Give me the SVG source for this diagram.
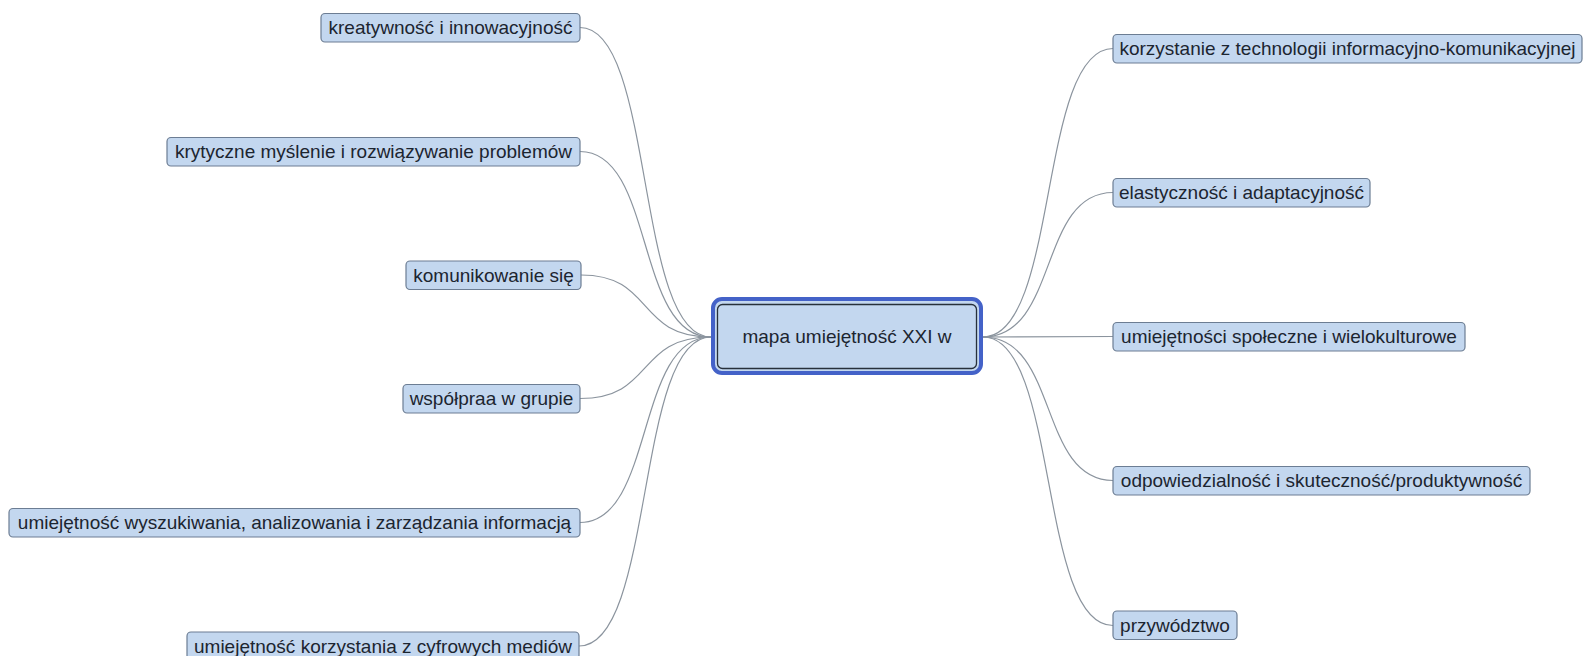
<svg xmlns="http://www.w3.org/2000/svg" width="1585" height="656" viewBox="0 0 1585 656">
<style>
  .box { fill: #c3d7ef; stroke: #6c7d93; stroke-width: 1.2; }
  .lbl { font-family: "Liberation Sans", Arial, sans-serif; font-size: 19px; fill: #1c2530; text-anchor: middle; }
  .conn { fill: none; stroke: #8b949e; stroke-width: 1.2; }
</style>
<rect x="0" y="0" width="1585" height="656" fill="#ffffff"/>
<g id="connectors">
  <path class="conn" d="M580,27.5 C655,27.5 635,337 711,337"/>
  <path class="conn" d="M580,151.5 C655,151.5 635,337 711,337"/>
  <path class="conn" d="M581,275 C655,275 635,337 711,337"/>
  <path class="conn" d="M580,398.5 C655,398.5 635,337 711,337"/>
  <path class="conn" d="M580,522.5 C655,522.5 635,337 711,337"/>
  <path class="conn" d="M579,646 C655,646 635,337 711,337"/>
  <path class="conn" d="M983,337 C1059,337 1038,48.5 1113,48.5"/>
  <path class="conn" d="M983,337 C1059,337 1038,192.5 1113,192.5"/>
  <path class="conn" d="M983,337 L1113,336.5"/>
  <path class="conn" d="M983,337 C1059,337 1038,480.5 1113,480.5"/>
  <path class="conn" d="M983,337 C1059,337 1038,625.5 1113,625.5"/>
</g>
<g id="center">
  <rect x="713" y="299" width="268" height="74" rx="9" fill="#c3d7ef" stroke="#4462c8" stroke-width="4"/>
  <rect x="717.5" y="304.5" width="259" height="64" rx="5" fill="none" stroke="#27303b" stroke-width="1.3"/>
  <text class="lbl" x="847" y="343">mapa umiejętność XXI w</text>
</g>
<g id="n-kreatywnosc">
  <rect class="box" x="321" y="13.5" width="259" height="28.5" rx="4"/>
  <text class="lbl" x="450.5" y="34">kreatywność i innowacyjność</text>
</g>
<g id="n-krytyczne">
  <rect class="box" x="167" y="137.5" width="413" height="28.5" rx="4"/>
  <text class="lbl" x="373.5" y="158">krytyczne myślenie i rozwiązywanie problemów</text>
</g>
<g id="n-komunikowanie">
  <rect class="box" x="406" y="261" width="175" height="28.5" rx="4"/>
  <text class="lbl" x="493.5" y="281.5">komunikowanie się</text>
</g>
<g id="n-wspolpraca">
  <rect class="box" x="403" y="384.5" width="177" height="28.5" rx="4"/>
  <text class="lbl" x="491.5" y="405">współpraa w grupie</text>
</g>
<g id="n-wyszukiwanie">
  <rect class="box" x="9" y="508.5" width="571" height="28.5" rx="4"/>
  <text class="lbl" x="294.5" y="529">umiejętność wyszukiwania, analizowania i zarządzania informacją</text>
</g>
<g id="n-cyfrowe">
  <rect class="box" x="187" y="632" width="392" height="28.5" rx="4"/>
  <text class="lbl" x="383" y="652.5">umiejętność korzystania z cyfrowych mediów</text>
</g>
<g id="n-tik">
  <rect class="box" x="1113" y="34.5" width="469" height="28.5" rx="4"/>
  <text class="lbl" x="1347.5" y="55">korzystanie z technologii informacyjno-komunikacyjnej</text>
</g>
<g id="n-elastycznosc">
  <rect class="box" x="1113" y="178.5" width="257" height="28.5" rx="4"/>
  <text class="lbl" x="1241.5" y="199">elastyczność i adaptacyjność</text>
</g>
<g id="n-spoleczne">
  <rect class="box" x="1113" y="322.5" width="352" height="28.5" rx="4"/>
  <text class="lbl" x="1289" y="343">umiejętności społeczne i wielokulturowe</text>
</g>
<g id="n-odpowiedzialnosc">
  <rect class="box" x="1113" y="466.5" width="417" height="28.5" rx="4"/>
  <text class="lbl" x="1321.5" y="487">odpowiedzialność i skuteczność/produktywność</text>
</g>
<g id="n-przywodztwo">
  <rect class="box" x="1113" y="611" width="124" height="28.5" rx="4"/>
  <text class="lbl" x="1175" y="631.5">przywództwo</text>
</g>
</svg>
